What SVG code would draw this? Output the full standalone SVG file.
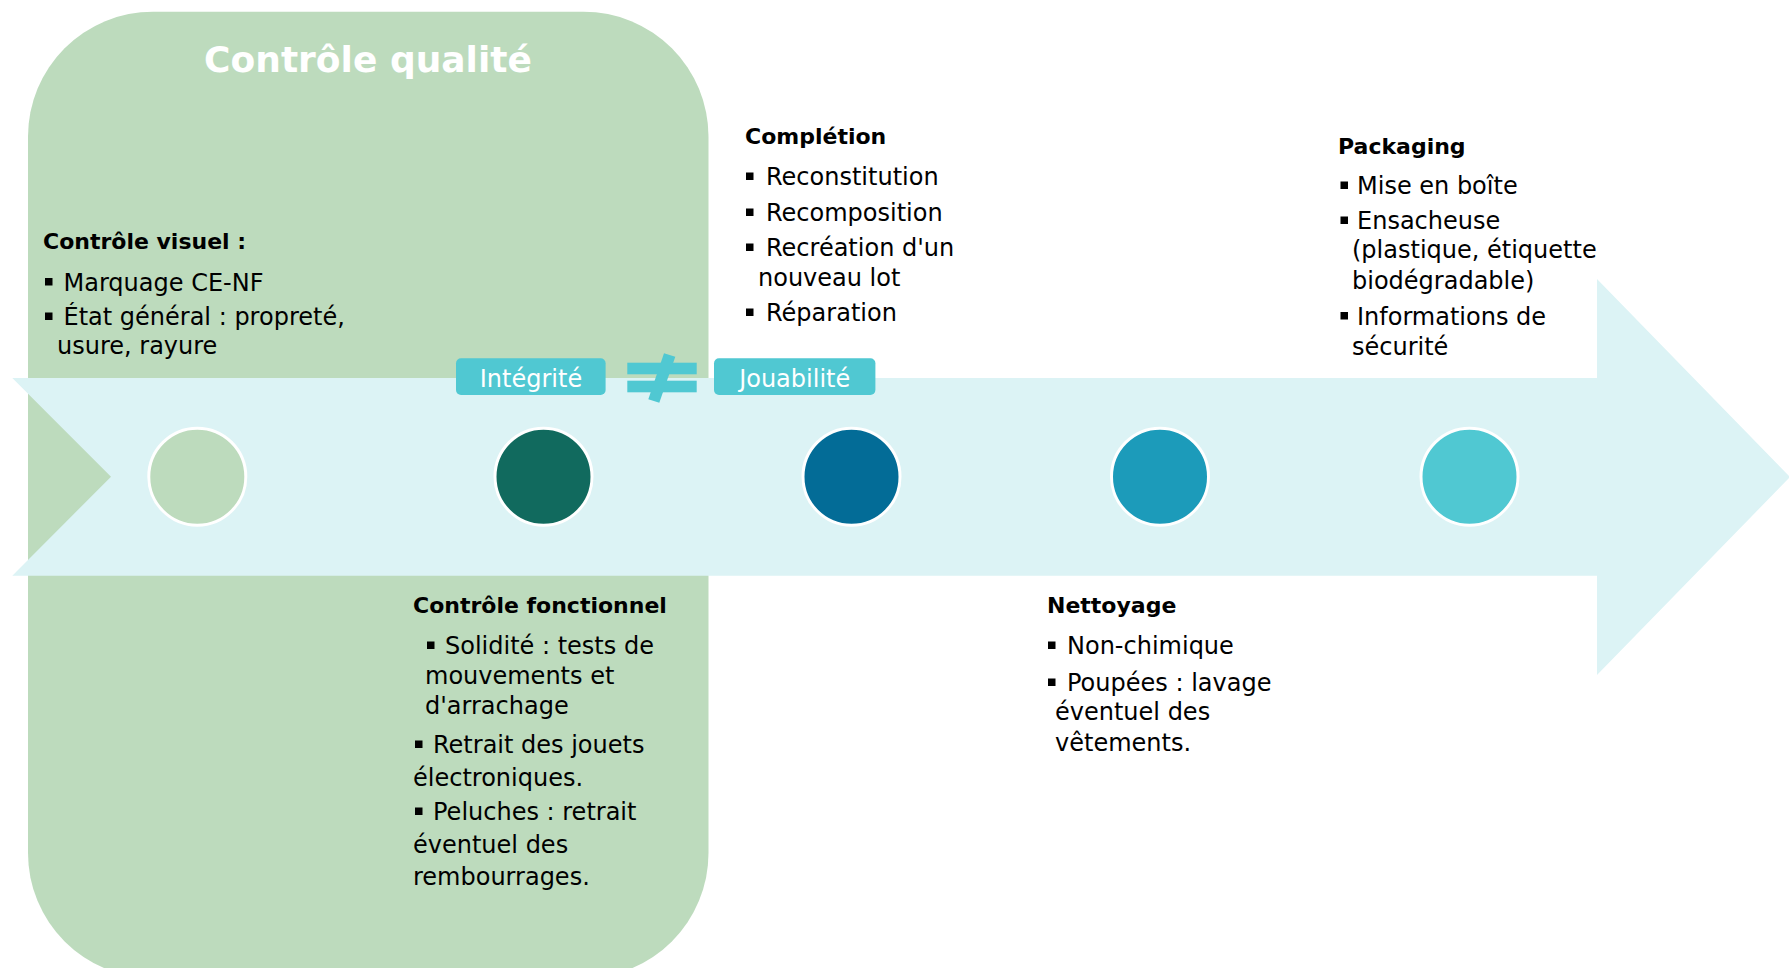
<svg xmlns="http://www.w3.org/2000/svg" xmlns:xlink="http://www.w3.org/1999/xlink" width="1789" height="968" viewBox="0 0 1789 968">
  <style>
    .h { font-family: "DejaVu Sans", "Liberation Sans", sans-serif; font-weight: bold; font-size: 22px; fill: #000; }
    .t { font-family: "DejaVu Sans", "Liberation Sans", sans-serif; font-size: 24px; fill: #000; }
    .title { font-family: "DejaVu Sans", "Liberation Sans", sans-serif; font-weight: bold; font-size: 36px; fill: #fff; }
    .pill { fill: #50C8D2; }
    .pt { font-family: "DejaVu Sans", "Liberation Sans", sans-serif; font-size: 24px; fill: #fff; text-anchor: middle; }
    .dot { stroke: #fff; stroke-width: 3; }
  </style>
  <defs>
    <rect id="b" x="0" y="0" width="7.5" height="7.5" fill="#000"/>
  </defs>
  <rect width="1789" height="968" fill="#fff"/>

  <g id="quality-control-zone">
    <rect x="28" y="11.7" width="680.5" height="966.3" rx="125" ry="125" fill="#BDDBBD"/>
    <text class="title" x="368" y="72" text-anchor="middle">Contrôle qualité</text>
  </g>

  <g id="connectors">
    <polygon points="12.3,378 1597,378 1597,279 1790,477 1597,675 1597,575.7 12.3,575.7 111,476.7" fill="#DCF3F5"/>
  </g>

  <g id="step1"><circle class="dot" cx="197.3" cy="476.7" r="48.5" fill="#BDDBBD"/></g>
  <g id="step2"><circle class="dot" cx="543.5" cy="476.7" r="48.5" fill="#116A5E"/></g>
  <g id="step3"><circle class="dot" cx="851.5" cy="476.7" r="48.5" fill="#036C97"/></g>
  <g id="step4"><circle class="dot" cx="1160" cy="476.7" r="48.5" fill="#1C9BBA"/></g>
  <g id="step5"><circle class="dot" cx="1469.5" cy="476.7" r="48.5" fill="#50C8D2"/></g>

  <g id="controle-visuel">
    <text class="h" x="43" y="249">Contrôle visuel :</text>
    <use xlink:href="#b" href="#b" x="45" y="278"/>
    <text class="t" x="63.5" y="290.7">Marquage CE-NF</text>
    <use xlink:href="#b" href="#b" x="45" y="312.5"/>
    <text class="t" x="63.5" y="325">État général : propreté,</text>
    <text class="t" x="57" y="354">usure, rayure</text>
  </g>

  <g id="integrite-jouabilite">
    <rect class="pill" x="456" y="358.3" width="149.6" height="36.7" rx="5"/>
    <text class="pt" x="531" y="386.5">Intégrité</text>
    <rect class="pill" x="627.3" y="362.7" width="69.4" height="11.6"/>
    <rect class="pill" x="627.3" y="380.7" width="69.4" height="11.6"/>
    <polygon class="pill" points="664,353.3 675.3,356.7 659.3,402.7 648.3,399.3"/>
    <rect class="pill" x="714" y="358.3" width="161.4" height="36.7" rx="5"/>
    <text class="pt" x="794.7" y="386.5">Jouabilité</text>
  </g>

  <g id="completion">
    <text class="h" x="745" y="143.5">Complétion</text>
    <use xlink:href="#b" href="#b" x="746" y="172.5"/>
    <text class="t" x="766" y="185">Reconstitution</text>
    <use xlink:href="#b" href="#b" x="746" y="208.5"/>
    <text class="t" x="766" y="221">Recomposition</text>
    <use xlink:href="#b" href="#b" x="746" y="243.5"/>
    <text class="t" x="766" y="256">Recréation d'un</text>
    <text class="t" x="758" y="286">nouveau lot</text>
    <use xlink:href="#b" href="#b" x="746" y="308.5"/>
    <text class="t" x="766" y="321">Réparation</text>
  </g>

  <g id="packaging">
    <text class="h" x="1338" y="154">Packaging</text>
    <use xlink:href="#b" href="#b" x="1340.5" y="181.5"/>
    <text class="t" x="1357" y="194">Mise en boîte</text>
    <use xlink:href="#b" href="#b" x="1340.5" y="216.5"/>
    <text class="t" x="1357" y="229">Ensacheuse</text>
    <text class="t" x="1352" y="258">(plastique, étiquette</text>
    <text class="t" x="1352" y="288.5">biodégradable)</text>
    <use xlink:href="#b" href="#b" x="1340.5" y="312"/>
    <text class="t" x="1357" y="324.5">Informations de</text>
    <text class="t" x="1352" y="355">sécurité</text>
  </g>

  <g id="controle-fonctionnel">
    <text class="h" x="413" y="613">Contrôle fonctionnel</text>
    <use xlink:href="#b" href="#b" x="427" y="641.5"/>
    <text class="t" x="445" y="654">Solidité : tests de</text>
    <text class="t" x="425" y="683.5">mouvements et</text>
    <text class="t" x="425" y="714">d'arrachage</text>
    <use xlink:href="#b" href="#b" x="415" y="740.5"/>
    <text class="t" x="433" y="753">Retrait des jouets</text>
    <text class="t" x="413" y="786">électroniques.</text>
    <use xlink:href="#b" href="#b" x="415" y="807.5"/>
    <text class="t" x="433" y="820">Peluches : retrait</text>
    <text class="t" x="413" y="852.5">éventuel des</text>
    <text class="t" x="413" y="885">rembourrages.</text>
  </g>

  <g id="nettoyage">
    <text class="h" x="1047" y="613">Nettoyage</text>
    <use xlink:href="#b" href="#b" x="1048" y="641.5"/>
    <text class="t" x="1067" y="654">Non-chimique</text>
    <use xlink:href="#b" href="#b" x="1048" y="678.5"/>
    <text class="t" x="1067" y="691">Poupées : lavage</text>
    <text class="t" x="1055" y="720">éventuel des</text>
    <text class="t" x="1055" y="750.5">vêtements.</text>
  </g>
</svg>
